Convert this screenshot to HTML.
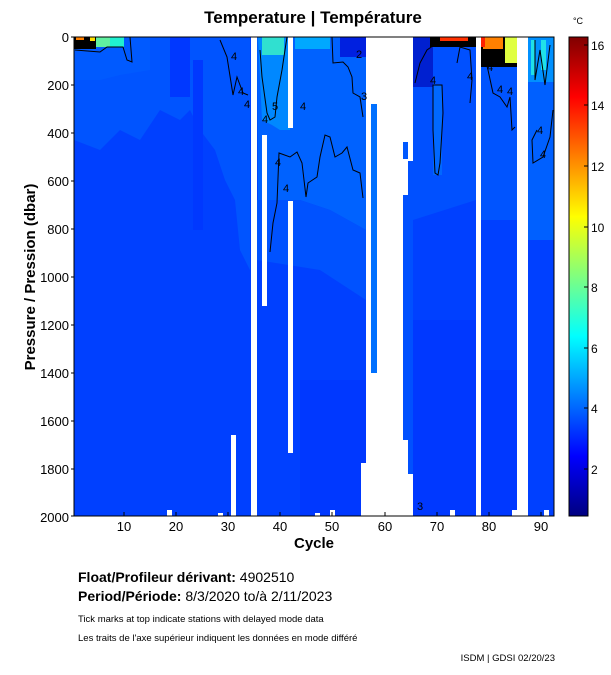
<!DOCTYPE html>
<html><head><meta charset="utf-8"><style>
html,body{margin:0;padding:0;background:#fff;}
svg{display:block;font-family:"Liberation Sans",sans-serif;}
</style></head><body>
<svg width="611" height="675" viewBox="0 0 611 675" xmlns="http://www.w3.org/2000/svg">
<defs>
<linearGradient id="jet" x1="0" y1="1" x2="0" y2="0">
<stop offset="0" stop-color="#000080"/>
<stop offset="0.125" stop-color="#0000ff"/>
<stop offset="0.375" stop-color="#00ffff"/>
<stop offset="0.625" stop-color="#ffff00"/>
<stop offset="0.875" stop-color="#ff0000"/>
<stop offset="1" stop-color="#800000"/>
</linearGradient>
</defs>
<text x="313" y="23" font-size="17" font-weight="bold" text-anchor="middle">Temperature | Température</text>
<text x="578" y="24" font-size="9" text-anchor="middle">°C</text>

<!-- base data -->
<rect x="74" y="37" width="480" height="479" fill="#0040ff"/>
<polygon points="74,37 230,37 230,80 200,100 180,120 160,110 140,140 120,130 100,150 74,140" fill="#0054ff"/>
<polygon points="74,37 150,37 150,70 120,75 100,80 74,80" fill="#005aff"/>
<polygon points="180,37 250,37 250,270 240,250 235,200 225,180 215,150 200,130 185,100" fill="#0054ff"/>
<rect x="170" y="37" width="20" height="60" fill="#0038ff"/>
<rect x="193" y="60" width="10" height="170" fill="#0038ff"/>
<polygon points="257,37 366,37 366,230 330,210 300,200 280,200 258,200" fill="#0062ff"/>
<polygon points="257,200 280,200 300,200 330,210 366,230 366,300 320,270 257,260" fill="#0052ff"/>
<polygon points="258,37 290,37 290,130 280,130 272,125 262,120" fill="#0088ff"/>
<rect x="262" y="37" width="22" height="18" fill="#30e0d0"/>
<rect x="295" y="37" width="35" height="12" fill="#00a8ff"/>
<rect x="340" y="37" width="26" height="20" fill="#0020e0"/>
<rect x="300" y="380" width="66" height="136" fill="#0038ff"/>
<rect x="74" y="37" width="22" height="12" fill="#000"/>
<rect x="76" y="37" width="8" height="3" fill="#ff8000"/>
<rect x="90" y="37" width="5" height="4" fill="#ffe000"/>
<rect x="96" y="37" width="14" height="10" fill="#60f0a0"/>
<rect x="110" y="37" width="14" height="10" fill="#20f0d0"/>
<polygon points="413,37 476,37 476,200 413,220" fill="#0050ff"/>
<rect x="413" y="37" width="20" height="50" fill="#0020d0"/>
<rect x="413" y="320" width="63" height="196" fill="#0038ff"/>
<rect x="430" y="37" width="46" height="10" fill="#000"/>
<rect x="440" y="37" width="28" height="4" fill="#ff3000"/>
<rect x="433" y="85" width="9" height="90" fill="#0068ff"/>
<polygon points="481,37 517,37 517,220 481,220" fill="#0054ff"/>
<rect x="481" y="37" width="36" height="30" fill="#000"/>
<rect x="483" y="37" width="20" height="12" fill="#ff8000"/>
<rect x="481" y="37" width="4" height="10" fill="#ff2000"/>
<rect x="505" y="37" width="12" height="26" fill="#e0ff40"/>
<rect x="481" y="370" width="36" height="146" fill="#0038ff"/>
<polygon points="528,37 554,37 554,240 528,240" fill="#0060ff"/>
<rect x="528" y="37" width="26" height="45" fill="#0090ff"/>
<rect x="531" y="40" width="4" height="35" fill="#20e0e8"/>
<rect x="541" y="40" width="5" height="30" fill="#20e0e8"/>
<g fill="#fff">
<rect x="251" y="37" width="6" height="479"/>
<rect x="231" y="435" width="5" height="81"/>
<rect x="262" y="135" width="5" height="171"/>
<rect x="288" y="37" width="5" height="91"/>
<rect x="288" y="201" width="5" height="252"/>
<rect x="366" y="37" width="47" height="479"/>
<rect x="361" y="463" width="5" height="53"/>
<rect x="476" y="37" width="5" height="479"/>
<rect x="517" y="37" width="11" height="479"/>
<rect x="167" y="510" width="5" height="6"/>
<rect x="218" y="513" width="5" height="3"/>
<rect x="315" y="513" width="5" height="3"/>
<rect x="330" y="510" width="5" height="6"/>
<rect x="450" y="510" width="5" height="6"/>
<rect x="544" y="510" width="5" height="6"/>
<rect x="512" y="510" width="5" height="6"/>
</g>
<rect x="371" y="104" width="6" height="269" fill="#0070ff"/>
<rect x="403" y="142" width="5" height="17" fill="#0058ff"/>
<rect x="403" y="195" width="5" height="245" fill="#0050ff"/>
<rect x="408" y="161" width="5" height="313" fill="#0050ff"/>
<rect x="408" y="474" width="5" height="23" fill="#fff"/>

<g fill="none" stroke="#000" stroke-width="1">
<polyline points="75,50 100,52 107,47 123,47 127,60 132,62 130,37"/>
<polyline points="220,40 227,57 233,95 237,77 243,93 248,95"/>
<polyline points="260,50 262,77 267,113 270,120 275,117 277,97 282,70 285,50 287,37"/>
<polyline points="270,252 273,223 277,203 279,153 290,157 297,152 302,163 306,197 308,183 317,177 320,157 325,135 330,137 335,157 342,153 347,147 353,170 360,173 363,198"/>
<polyline points="332,37 333,63 343,62 348,67 352,77 353,93 360,97 363,117"/>
<polygon points="433,85 442,85 443,113 442,130 440,163 438,175 435,173 433,130"/>
<polyline points="415,83 420,63 427,50 437,43"/>
<polyline points="457,63 460,47 470,50 472,80 470,103"/>
<polyline points="483,50 488,70 493,93 500,97 507,107 510,97 512,130 515,127"/>
<polyline points="553,110 550,137 543,157 533,163 532,140 537,130"/>
<polyline points="535,40 535,80 540,50 545,85 550,45"/>
</g>
<g font-size="11" fill="#000">
<text x="231" y="60">4</text><text x="238" y="95">4</text><text x="244" y="108">4</text>
<text x="262" y="123">4</text><text x="272" y="110">5</text><text x="300" y="110">4</text><text x="275" y="166">4</text>
<text x="283" y="192">4</text><text x="356" y="58">2</text><text x="361" y="100">3</text>
<text x="430" y="84">4</text><text x="467" y="80">4</text><text x="487" y="71">4</text><text x="497" y="93">4</text>
<text x="507" y="95">4</text><text x="537" y="134">4</text><text x="540" y="158">4</text><text x="417" y="510">3</text>
</g>

<rect x="74" y="37" width="480" height="479" fill="none" stroke="#000" stroke-width="1"/>
<g stroke="#000" stroke-width="1">
<line x1="124" y1="516" x2="124" y2="512"/><line x1="176" y1="516" x2="176" y2="512"/><line x1="228" y1="516" x2="228" y2="512"/>
<line x1="280" y1="516" x2="280" y2="512"/><line x1="332" y1="516" x2="332" y2="512"/><line x1="385" y1="516" x2="385" y2="512"/>
<line x1="437" y1="516" x2="437" y2="512"/><line x1="489" y1="516" x2="489" y2="512"/><line x1="541" y1="516" x2="541" y2="512"/>
<line x1="71" y1="85" x2="74" y2="85"/><line x1="71" y1="133" x2="74" y2="133"/><line x1="71" y1="181" x2="74" y2="181"/>
<line x1="71" y1="229" x2="74" y2="229"/><line x1="71" y1="277" x2="74" y2="277"/><line x1="71" y1="325" x2="74" y2="325"/>
<line x1="71" y1="373" x2="74" y2="373"/><line x1="71" y1="421" x2="74" y2="421"/><line x1="71" y1="469" x2="74" y2="469"/>
<line x1="71" y1="516" x2="74" y2="516"/><line x1="71" y1="37" x2="74" y2="37"/>
</g>
<g font-size="13" text-anchor="end">
<text x="69" y="42">0</text><text x="69" y="90">200</text><text x="69" y="138">400</text><text x="69" y="186">600</text>
<text x="69" y="234">800</text><text x="69" y="282">1000</text><text x="69" y="330">1200</text><text x="69" y="378">1400</text>
<text x="69" y="426">1600</text><text x="69" y="474">1800</text><text x="69" y="522">2000</text>
</g>
<g font-size="13" text-anchor="middle">
<text x="124" y="531">10</text><text x="176" y="531">20</text><text x="228" y="531">30</text><text x="280" y="531">40</text>
<text x="332" y="531">50</text><text x="385" y="531">60</text><text x="437" y="531">70</text><text x="489" y="531">80</text><text x="541" y="531">90</text>
</g>
<text x="314" y="548" font-size="15" font-weight="bold" text-anchor="middle">Cycle</text>
<text transform="translate(35,277) rotate(-90)" font-size="15" font-weight="bold" text-anchor="middle">Pressure / Pression (dbar)</text>

<rect x="569" y="37" width="19" height="479" fill="url(#jet)" stroke="#000" stroke-width="1"/>
<g stroke="#000" stroke-width="1">
<line x1="584" y1="45" x2="588" y2="45"/><line x1="584" y1="105" x2="588" y2="105"/><line x1="584" y1="166" x2="588" y2="166"/>
<line x1="584" y1="227" x2="588" y2="227"/><line x1="584" y1="287" x2="588" y2="287"/><line x1="584" y1="348" x2="588" y2="348"/>
<line x1="584" y1="408" x2="588" y2="408"/><line x1="584" y1="469" x2="588" y2="469"/>
</g>
<g font-size="12">
<text x="591" y="50">16</text><text x="591" y="110">14</text><text x="591" y="171">12</text><text x="591" y="232">10</text>
<text x="591" y="292">8</text><text x="591" y="353">6</text><text x="591" y="413">4</text><text x="591" y="474">2</text>
</g>

<text x="78" y="582" font-size="14"><tspan font-weight="bold">Float/Profileur dérivant:</tspan> 4902510</text>
<text x="78" y="601" font-size="14"><tspan font-weight="bold">Period/Période:</tspan> 8/3/2020  to/à  2/11/2023</text>
<text x="78" y="622" font-size="9.5">Tick marks at top indicate stations with delayed mode data</text>
<text x="78" y="641" font-size="9.5">Les traits de l'axe supérieur indiquent les données en mode différé</text>
<text x="555" y="661" font-size="9.5" text-anchor="end">ISDM | GDSI  02/20/23</text>
</svg>
</body></html>
